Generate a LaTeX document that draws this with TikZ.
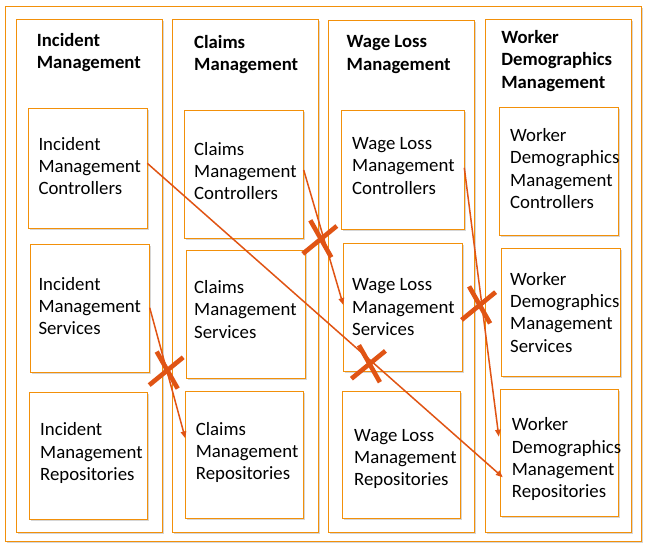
\documentclass[tikz,border=0pt]{standalone}
\usepackage{fontspec}
\setmainfont{Carlito}
\usetikzlibrary{arrows.meta,shadows,calc}
\definecolor{boxorange}{RGB}{242,144,10}
\definecolor{linered}{RGB}{224,84,20}
\newcommand\mybox[6][ibox]{\node[#1, minimum width={(#5-#3)*1pt}, minimum height={(#6-#4)*1pt}] (#2) at ({(#3+#5)/2},{(#4+#6)/2}) {};}
\newcommand\fl{\rule{0pt}{14pt}}
\tikzset{
  ibox/.style={draw=boxorange, line width=1.4pt, fill=white, rectangle, inner sep=0pt, outer sep=0pt,
    drop shadow={shadow xshift=1.6pt, shadow yshift=-1.6pt, fill=black, opacity=0.16}},
  btext/.style={inner sep=0pt, align=left, anchor=north west, yshift=14pt, text=black,
    font=\fontsize{18.8}{22.3}\selectfont},
  ttext/.style={btext, font=\bfseries\fontsize{18.7}{22.3}\selectfont},
  conn/.style={draw=linered, line width=1.5pt, -{Triangle[length=7pt,width=5.5pt]}},
  xmk/.style={draw=linered, line width=4.6pt},
  xmark/.pic={\draw[xmk] (-10.5,-18.5) -- (10.5,18.5) (16,-12.8) -- (-18,15);}
}
\begin{document}
\begin{tikzpicture}[x=1pt,y=-1pt]
\useasboundingbox (0,0) rectangle (649,547);
% frames
\mybox{outer}{5.7}{6.3}{641.3}{541.3}
\mybox{col1}{16.3}{19.7}{162.3}{532.3}
\mybox{col2}{172.3}{19.7}{318.3}{532.3}
\mybox{col3}{328.3}{20.7}{474.3}{532.3}
\mybox{col4}{485.7}{19.7}{631.7}{532.3}
% inner boxes
\mybox{imc}{28.3}{108.3}{147.3}{228.3}
\mybox{ims}{30.3}{244.3}{149.7}{372.3}
\mybox{imr}{29.3}{392.3}{147.3}{519.3}
\mybox{cmc}{184.3}{110.3}{303.7}{238.3}
\mybox{cms}{186.3}{250.3}{305.3}{378.3}
\mybox{cmr}{185.3}{391.7}{303.7}{518.3}
\mybox{wlc}{341.3}{110.3}{464.3}{229.3}
\mybox{wls}{343.3}{243.3}{462.3}{371.3}
\mybox{wlr}{342.3}{391.3}{460.3}{518.3}
\mybox{wdc}{499.3}{107.3}{618.3}{235.3}
\mybox{wds}{501.3}{248.3}{620.3}{376.7}
\mybox{wdr}{500.3}{389.3}{618.3}{516.7}
% titles
\node[ttext] (t1) at (36.7,46) {\fl Incident\\Management};
\node[ttext] (t2) at (194,48.3) {\fl Claims\\Management};
\node[ttext] (t3) at (346.5,47.7) {\fl Wage Loss\\Management};
\node[ttext] (t4) at (501.2,43.3) {\fl Worker\\Demographics\\Management};
% box texts
\node[btext] (imct) at (38.3,150) {\fl Incident\\Management\\Controllers};
\node[btext] (imst) at (38.3,290) {\fl Incident\\Management\\Services};
\node[btext] (imrt) at (40,435.7) {\fl Incident\\Management\\Repositories};
\node[btext] (cmct) at (194,155) {\fl Claims\\Management\\Controllers};
\node[btext] (cmst) at (194,293.3) {\fl Claims\\Management\\Services};
\node[btext] (cmrt) at (195.7,435) {\fl Claims\\Management\\Repositories};
\node[btext] (wlct) at (352,149.3) {\fl Wage Loss\\Management\\Controllers};
\node[btext] (wlst) at (352,290.7) {\fl Wage Loss\\Management\\Services};
\node[btext] (wlrt) at (354,441) {\fl Wage Loss\\Management\\Repositories};
\node[btext] (wdct) at (510,141.3) {\fl Worker\\Demographics\\Management\\Controllers};
\node[btext] (wdst) at (510,285) {\fl Worker\\Demographics\\Management\\Services};
\node[btext] (wdrt) at (511.7,430.7) {\fl Worker\\Demographics\\Management\\Repositories};
% connectors
\draw[conn] ([yshift=5pt]imc.east) -- ([xshift=2.5pt,yshift=-24.3pt]wdr.west);
\draw[conn] ([yshift=4.3pt]cmc.east) -- ([yshift=2.3pt]wls.west);
\draw[conn] ([yshift=0.6pt]ims.east) -- ([yshift=16.7pt]cmr.west);
\draw[conn] ([yshift=2pt]wlc.east) -- ([xshift=-1.5pt,yshift=16.3pt]wdr.west);
% crosses
\pic (x1) at (320.8,238.8) {xmark};
\pic (x2) at (167.2,370.1) {xmark};
\pic (x3) at (369.4,363.7) {xmark};
\pic (x4) at (479.6,304.9) {xmark};
\end{tikzpicture}
\end{document}
